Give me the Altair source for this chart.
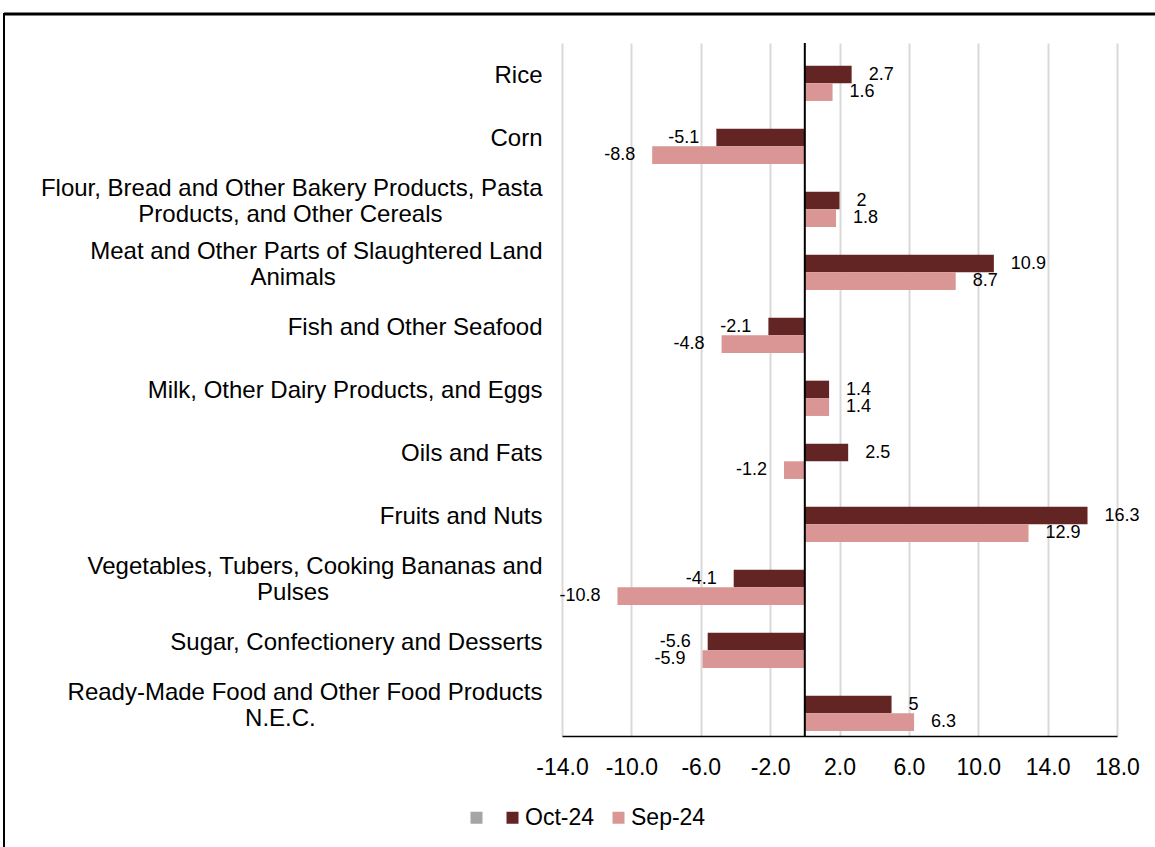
import altair as alt
import pandas as pd

NB = "\u00a0"
ZW = "\u200b"

categories = [
    "Rice",
    "Corn",
    "Flour, Bread and Other Bakery Products, Pasta Products, and Other Cereals",
    "Meat and Other Parts of Slaughtered Land Animals",
    "Fish and Other Seafood",
    "Milk, Other Dairy Products, and Eggs",
    "Oils and Fats",
    "Fruits and Nuts",
    "Vegetables, Tubers, Cooking Bananas and Pulses",
    "Sugar, Confectionery and Desserts",
    "Ready-Made Food and Other Food Products N.E.C.",
]

# wrapped display labels (second lines padded so they sit centred under the first)
display_labels = [
    "Rice",
    "Corn",
    "Flour, Bread and Other Bakery Products, Pasta\nProducts, and Other Cereals" + NB * 15 + ZW,
    "Meat and Other Parts of Slaughtered Land\nAnimals" + NB * 31 + ZW,
    "Fish and Other Seafood",
    "Milk, Other Dairy Products, and Eggs",
    "Oils and Fats",
    "Fruits and Nuts",
    "Vegetables, Tubers, Cooking Bananas and\nPulses" + NB * 32 + ZW,
    "Sugar, Confectionery and Desserts",
    "Ready-Made Food and Other Food Products\nN.E.C." + NB * 34 + ZW,
]

oct_values = [2.7, -5.1, 2, 10.9, -2.1, 1.4, 2.5, 16.3, -4.1, -5.6, 5]
sep_values = [1.6, -8.8, 1.8, 8.7, -4.8, 1.4, -1.2, 12.9, -10.8, -5.9, 6.3]

series_names = ["blank", "Oct-24", "Sep-24"]
series_colors = ["#A5A5A5", "#632523", "#D99694"]
x_ticks = [-14, -10, -6, -2, 2, 6, 10, 14, 18]

rows = []
for cat, lab, o, s in zip(categories, display_labels, oct_values, sep_values):
    rows.append({"category": cat, "label": lab, "series": "Oct-24", "value": o, "text": f"{o:g}"})
    rows.append({"category": cat, "label": lab, "series": "Sep-24", "value": s, "text": f"{s:g}"})
df = pd.DataFrame(rows)

FONT = "Liberation Sans"

y_enc = alt.Y(
    "label:N",
    sort=display_labels,
    scale=alt.Scale(domain=display_labels, paddingInner=0.16, paddingOuter=0.08),
    axis=alt.Axis(
        title=None, domain=False, ticks=False, grid=False,
        labelPadding=20, labelFontSize=24, labelFont=FONT, labelColor="#000000",
        labelLimit=700, labelLineHeight=26, labelAlign="right", labelBaseline="middle",
        labelOffset={"condition": {"test": "indexof(datum.value, '\\n') >= 0", "value": -12}, "value": 1},
        labelExpr="split(datum.label, '\\n')",
    ),
)
yoff_enc = alt.YOffset("series:N", scale=alt.Scale(domain=series_names, paddingInner=0, paddingOuter=0))

x_scale = alt.Scale(domain=[-14, 18], nice=False, zero=False)
x_axis = alt.Axis(
    values=x_ticks, title=None, grid=True, gridColor="#D9D9D9", gridWidth=2,
    ticks=False, domain=True, domainColor="#000000", domainWidth=1.5,
    labelFontSize=23, labelFont=FONT, labelColor="#000000", labelPadding=20,
    labelOverlap=False, labelFlush=False,
    labelExpr="replace(format(datum.value, '.1f'), '\u2212', '-')",
)

bars = alt.Chart(df).mark_bar().encode(
    x=alt.X("value:Q", scale=x_scale, axis=x_axis, title=None),
    y=y_enc,
    yOffset=yoff_enc,
    color=alt.Color(
        "series:N",
        scale=alt.Scale(domain=series_names, range=series_colors),
        legend=alt.Legend(
            orient="none", legendX=-97, legendY=763, direction="horizontal",
            title=None, symbolType="square", symbolSize=144, symbolStrokeWidth=0,
            labelFontSize=23, labelFont=FONT, labelColor="#000000", labelOffset=1,
            columnPadding=12, padding=0,
            labelExpr="datum.label == 'blank' ? '' : datum.label",
        ),
    ),
)

text_pos = alt.Chart(df).transform_filter("datum.value >= 0").mark_text(
    align="left", baseline="middle", dx=17, fontSize=18, font=FONT, color="#000000"
).encode(
    x=alt.X("value:Q", title=None),
    y=alt.Y("label:N", sort=display_labels),
    yOffset=yoff_enc,
    text="text:N",
)

text_neg = alt.Chart(df).transform_filter("datum.value < 0").mark_text(
    align="right", baseline="middle", dx=-17, fontSize=18, font=FONT, color="#000000"
).encode(
    x=alt.X("value:Q", title=None),
    y=alt.Y("label:N", sort=display_labels),
    yOffset=yoff_enc,
    text="text:N",
)

zero_df = pd.DataFrame({"value": [0]})
zero_line = alt.Chart(zero_df).mark_rule(color="#000000", strokeWidth=2).encode(
    x=alt.X("value:Q", title=None)
)

one = pd.DataFrame({"a": [0]})
frame_top = alt.Chart(one).mark_rule(color="#000000", strokeWidth=3).encode(
    x=alt.value(-558), x2=alt.value(700), y=alt.value(-29)
)
frame_left = alt.Chart(one).mark_rule(color="#000000", strokeWidth=2).encode(
    x=alt.value(-558), y=alt.value(-30), y2=alt.value(900)
)

chart = alt.layer(bars, zero_line, text_pos, text_neg, frame_top, frame_left).properties(
    width=555,
    height=693,
    padding={"left": 562, "top": 43, "right": 38, "bottom": 111},
    autosize=alt.AutoSizeParams(type="none"),
    background="#FFFFFF",
).configure_view(stroke=None)

chart.save("out.html", embed_options={"renderer": "svg", "actions": False})
